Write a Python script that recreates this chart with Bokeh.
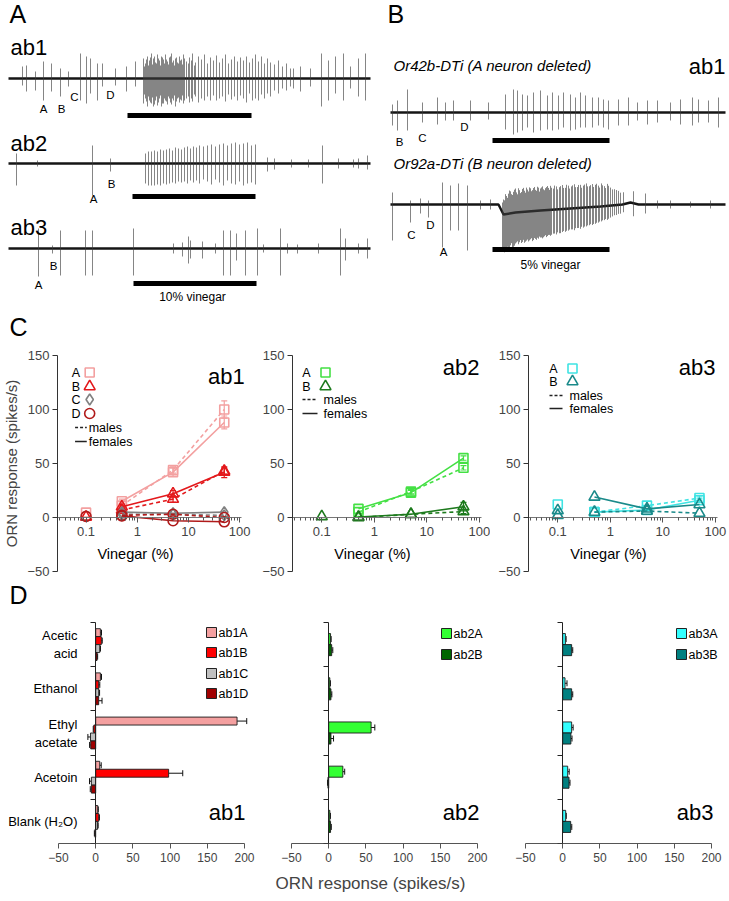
import numpy as np
from bokeh.plotting import figure
from bokeh.layouts import column, row
from bokeh.models import FixedTicker, Whisker, TeeHead, ColumnDataSource, NumeralTickFormatter
from bokeh.core.properties import value
from bokeh.embed import file_html
from bokeh.resources import INLINE

FONT = "Liberation Sans"

# ---------------- Panels A / B : spike traces (time, up, down) ----------------
ab1_spikes = [
    (14, 12, 7), (18, 13, 13), (27, 7, 12), (35, 17, 22), (43, 15, 13), (52, 10, 18), (60, 7, 8),
    (72, 25, 22), (78, 22, 25), (82, 20, 15), (89, 15, 22), (94, 15, 8), (107, 10, 7), (118, 12, 13),
    (127, 17, 8),
    (135, 20, 25), (137, 15, 20), (139, 22, 28), (141, 18, 22), (143, 25, 25), (145, 20, 28), (147, 16, 22),
    (149, 24, 27), (151, 18, 20), (153, 22, 28), (155, 19, 25), (157, 24, 22), (159, 17, 26), (161, 21, 20),
    (163, 25, 26), (165, 18, 22), (167, 20, 28), (169, 16, 20), (171, 22, 24), (173, 19, 22), (175, 24, 25),
    (178, 17, 20), (181, 21, 24), (184, 25, 23), (187, 16, 18), (190, 22, 24), (193, 19, 20), (196, 24, 22),
    (199, 15, 18), (202, 21, 22), (205, 18, 17), (208, 23, 22), (211, 16, 20), (214, 20, 18), (217, 24, 23),
    (220, 15, 16), (223, 19, 21), (226, 22, 18), (229, 17, 22), (232, 21, 17), (235, 18, 20), (238, 22, 24),
    (241, 16, 15), (244, 20, 22), (247, 24, 20), (250, 17, 22), (253, 22, 16), (256, 15, 20), (259, 20, 15),
    (262, 16, 18), (266, 14, 12), (270, 18, 15), (274, 12, 10), (278, 15, 12), (282, 10, 8),
    (136, 12, 16), (138, 19, 23), (140, 13, 18), (142, 21, 24), (144, 14, 19), (146, 22, 26), (148, 15, 18),
    (150, 20, 24), (152, 13, 17), (154, 21, 25), (156, 15, 20), (158, 19, 23), (160, 14, 18), (162, 22, 24),
    (164, 16, 20), (166, 13, 17), (168, 21, 23), (170, 15, 19), (172, 18, 21), (174, 14, 17), (176, 20, 22),
    (180, 15, 18), (183, 18, 20), (186, 13, 16),
    (285, 10, 10), (292, 12, 13), (302, 10, 8), (313, 25, 28), (320, 18, 22), (327, 22, 15), (335, 25, 22),
    (342, 12, 10), (350, 20, 18), (357, 25, 22),
]
ab1_stim = [119, 243]

ab2_spikes = [
    (8, 10, 22), (29, 3, 3), (84, 18, 32), (102, 5, 8),
    (137, 10, 20), (140, 12, 22), (143, 12, 22), (146, 13, 22), (149, 12, 21), (152, 14, 22), (155, 13, 20),
    (158, 14, 21), (161, 15, 20), (164, 13, 19), (167, 16, 20), (170, 15, 18), (173, 14, 19), (176, 16, 18),
    (179, 17, 20), (182, 15, 17), (185, 17, 19), (188, 16, 17), (191, 18, 20), (195, 17, 16), (199, 18, 18),
    (203, 19, 21), (207, 17, 16), (211, 19, 19), (215, 20, 22), (219, 18, 17), (223, 20, 20), (227, 21, 21),
    (231, 19, 18), (235, 20, 22), (239, 21, 20), (243, 18, 19), (247, 19, 21),
    (259, 6, 8), (266, 5, 6), (283, 4, 4), (300, 4, 4), (314, 18, 20), (330, 5, 5), (345, 4, 4), (350, 5, 5),
    (359, 8, 6),
]
ab2_stim = [124, 247]

ab3_spikes = [
    (30, 20, 28), (44, 3, 5), (52, 18, 27), (77, 18, 27), (84, 18, 27), (125, 20, 27), (165, 5, 5),
    (174, 6, 8), (180, 12, 15), (182, 8, 10), (194, 7, 10), (207, 5, 5), (215, 18, 27), (222, 18, 27),
    (228, 15, 12), (237, 18, 27), (249, 20, 27), (255, 4, 4), (272, 20, 27), (279, 5, 5), (289, 4, 5),
    (310, 5, 5), (332, 20, 27), (337, 10, 12), (350, 5, 5), (359, 10, 10),
]
ab3_stim = [125, 248]

or42b_spikes = [
    (2, 8, 13), (7, 12, 18), (17, 23, 18), (32, 10, 10), (47, 15, 12), (55, 10, 8), (63, 12, 8), (80, 12, 8),
    (98, 10, 7), (115, 18, 17), (123, 23, 22), (127, 22, 20), (132, 18, 18), (137, 17, 15), (143, 20, 20),
    (150, 22, 18), (157, 17, 17), (162, 20, 18), (168, 17, 17), (173, 20, 15), (180, 18, 18), (185, 15, 17),
    (190, 20, 15), (195, 17, 15), (202, 15, 15), (208, 15, 13), (213, 13, 15), (218, 12, 17), (228, 13, 13),
    (238, 15, 13), (247, 10, 8), (257, 12, 12), (267, 12, 10), (280, 10, 8), (290, 13, 12), (302, 15, 13),
    (308, 13, 10), (318, 12, 10), (328, 15, 15),
]
or42b_stim = [102, 219]

or92a_spikes = [
    (2, 12, 36), (20, 4, 18), (30, 6, 9), (38, 4, 13), (52, 22, 43), (60, 19, 26), (68, 21, 26), (77, 19, 46),
    (90, 4, 5), (100, 5, 5),
    (112, 10, 35), (114, 14, 38), (116, 18, 36), (118, 20, 34), (120, 22, 32), (122, 18, 35), (124, 23, 33),
    (126, 20, 30), (128, 24, 32), (130, 19, 28), (132, 23, 30), (134, 21, 31), (136, 24, 29), (138, 20, 30),
    (140, 23, 28), (142, 21, 30), (144, 24, 27), (146, 20, 29), (148, 23, 28), (150, 22, 27), (152, 24, 28),
    (154, 20, 26), (156, 23, 27), (158, 22, 25), (160, 24, 26), (163, 21, 24), (166, 23, 25), (169, 22, 24),
    (172, 24, 23), (175, 21, 23), (178, 23, 22), (181, 22, 21), (184, 24, 22), (187, 21, 20), (190, 23, 21),
    (193, 22, 20), (196, 24, 19), (199, 21, 18), (202, 23, 18), (205, 22, 17), (208, 21, 16), (211, 23, 15),
    (214, 20, 14), (217, 22, 14), (220, 18, 12), (224, 16, 10), (228, 14, 9), (233, 12, 8),
    (113, 15, 36), (115, 20, 37), (117, 16, 33), (119, 23, 35), (121, 19, 30), (123, 21, 34), (125, 24, 31),
    (127, 18, 29), (129, 22, 30), (131, 20, 31), (133, 24, 28), (135, 19, 30), (137, 22, 28), (139, 24, 29),
    (141, 20, 27), (143, 23, 29), (145, 21, 28), (147, 24, 27), (149, 19, 26), (151, 23, 27), (153, 21, 27),
    (155, 22, 25), (157, 24, 26), (159, 20, 25), (161, 22, 25), (164, 24, 24), (167, 20, 23), (170, 23, 24),
    (173, 21, 22), (176, 24, 22), (179, 20, 21), (182, 23, 21), (185, 21, 20), (188, 23, 20), (191, 20, 19),
    (194, 23, 19), (197, 21, 18), (200, 22, 17), (203, 20, 17), (206, 23, 16), (209, 19, 15), (212, 21, 14),
    (215, 18, 13), (218, 20, 13), (222, 16, 11), (226, 15, 10), (230, 12, 9),
    (243, 12, 13), (255, 11, 9), (267, 4, 4), (280, 4, 4), (300, 3, 3), (320, 4, 4),
]
or92a_stim = [102, 219]
or92a_drift = [(0, 0), (108, 0), (113, 10), (125, 8), (150, 6), (180, 4), (210, 2), (232, 0),
               (240, -2), (248, 0), (335, 0)]

# ---------------- Panel C : dose responses ----------------
conc = [0.5, 5, 50]
conc_low = 0.1

ab1A_f, ab1A_f_err, ab1A_m, ab1A_m_err, ab1A_low = [15, 42, 88], [2, 4, 6], [11, 44, 100], [2, 3, 8], [4.5]
ab1B_f, ab1B_f_err, ab1B_m, ab1B_m_err, ab1B_low = [10, 22, 42], [2, 3, 5], [7, 17, 43], [1.5, 3, 3], [0.5]
ab1C_f, ab1C_f_err, ab1C_m, ab1C_m_err, ab1C_low = [5, 4, 5], [0, 0, 0], [3, 3, 2], [0, 0, 0], []
ab1D_f, ab1D_f_err, ab1D_m, ab1D_m_err, ab1D_low = [1.5, -3, -4], [0, 0, 0], [2, 3, 0], [0, 0, 0], [1]

ab2A_f, ab2A_f_err, ab2A_m, ab2A_m_err, ab2A_low = [8, 23, 55], [0, 2, 2], [5, 24, 46], [0, 2, 2], []
ab2B_f, ab2B_f_err, ab2B_m, ab2B_m_err, ab2B_low = [0.5, 3, 10], [0, 0, 4], [0, 3, 5.5], [0, 0, 2], [1]

ab3A_f, ab3A_f_err, ab3A_m, ab3A_m_err, ab3A_low = [5, 7, 16], [0, 0, 2], [5, 11, 18], [0, 0, 2], [12]
ab3B_f, ab3B_f_err, ab3B_m, ab3B_m_err, ab3B_low = [19, 8, 12], [0, 0, 0], [5, 6, 4], [0, 0, 0], [6.5, 2]

# ---------------- Panel D : odorant responses ----------------
odorants = ["Acetic\nacid", "Ethanol", "Ethyl\nacetate", "Acetoin", "Blank (H\u2082O)"]
ab1A, ab1A_err = [6.3, 6.3, 190, 5.4, 2.7], [1.5, 1.5, 13, 2, 0.8]
ab1B, ab1B_err = [7.6, 4.0, -2.5, 98, 4.0], [1.2, 1.5, 0.8, 19, 1]
ab1C, ab1C_err = [5.4, 4.0, -7.0, -5.8, 2.5], [1.0, 1.2, 3.5, 2.5, 0.8]
ab1D, ab1D_err = [1.8, 4.0, -6.7, -5.8, -1.0], [0.8, 4.5, 1.5, 1.5, 0.8]
ab2A, ab2A_err = [2.5, 1.5, 57, 19, 1.5], [0.8, 0.8, 5, 2.5, 0.8]
ab2B, ab2B_err = [4, 3, 3, -1, 2.5], [1.5, 1.2, 3.5, 0.5, 1]
ab3A, ab3A_err = [3.6, 3.1, 12, 6.7, 4], [1, 2.7, 2, 2, 0.8]
ab3B, ab3B_err = [12, 12, 11, 8.5, 10.7], [1.5, 1.5, 1.5, 1.3, 1.5]


def txt(p, xs, ys, texts, size, align="left", baseline="middle", style="normal", color="black"):
    p.text(x=xs, y=ys, text=texts, text_font=value(FONT), text_font_size=size,
           text_align=align, text_baseline=baseline, text_font_style=style, text_color=color)


def clean(p):
    p.grid.visible = False
    p.outline_line_color = None


# ======================= top canvas: traces =======================
top = figure(width=729, height=340, x_range=(0, 729), y_range=(340, 0),
             x_axis_location=None, y_axis_location=None, min_border=0,
             output_backend="svg", toolbar_location=None)
clean(top)

TRACE_LAYOUT = [
    (ab1_spikes, ab1_stim, None, 8, 78, 362, 115),
    (ab2_spikes, ab2_stim, None, 8, 163, 362, 196),
    (ab3_spikes, ab3_stim, None, 8, 248, 362, 283),
    (or42b_spikes, or42b_stim, None, 390, 112, 335, 140),
    (or92a_spikes, or92a_stim, or92a_drift, 390, 204, 335, 249),
]
for spikes, stim, drift, x0, base, length, sy in TRACE_LAYOUT:
    sp = np.array(spikes, dtype=float)
    t, up, dn = sp[:, 0], sp[:, 1], sp[:, 2]
    if drift is None:
        dt, dv = np.array([0.0, length]), np.array([0.0, 0.0])
    else:
        d = np.array(drift, dtype=float)
        dt, dv = d[:, 0], d[:, 1]
    off = np.interp(t, dt, dv)
    top.line(x0 + dt, base + dv, line_color="#151515", line_width=2.4)
    top.segment(x0 + t, base + off - up, x0 + t, base + off + dn,
                line_color="#3a3a3a", line_width=1, line_alpha=0.62)
    top.segment([x0 + stim[0]], [sy], [x0 + stim[1]], [sy], line_color="black", line_width=5)

txt(top, [9, 387], [13, 13], ["A", "B"], "25px")
txt(top, [9], [326], ["C"], "25px")
txt(top, [10, 10, 10], [47, 143, 227], ["ab1", "ab2", "ab3"], "22px")
txt(top, [725], [66], ["ab1"], "22px", align="right")
txt(top, [393, 393], [65, 163], ["Or42b-DTi (A neuron deleted)", "Or92a-DTi (B neuron deleted)"],
    "15px", style="italic")
txt(top, [43, 61, 74, 110, 93, 111, 38, 53, 399, 422, 464, 411, 430, 443],
    [108, 108, 96, 94, 198, 183, 284, 265, 141, 137, 126, 234, 224, 251],
    ["A", "B", "C", "D", "A", "B", "A", "B", "B", "C", "D", "C", "D", "A"], "11.5px", align="center")
txt(top, [192, 550], [296, 264], ["10% vinegar", "5% vinegar"], "12px", align="center")

# ======================= panel C =======================
X0 = 0.0277
PPD = 52.5
LOW_MINOR = [0.03, 0.04, 0.05, 0.06, 0.07, 0.08, 0.09]
MINORS = LOW_MINOR + [m * d for d in (0.1, 1, 10) for m in range(2, 10)]


def c_panel(width, bl, br, axis_px, series, tag, tag_xy, leg, ylabel):
    fw = width - bl - br
    x_end = X0 * 10 ** (fw / PPD)
    p = figure(width=width, height=239, x_axis_type="log", x_range=(X0, x_end), y_range=(-50, 150),
               min_border_left=bl, min_border_right=br, min_border_top=15, min_border_bottom=8,
               output_backend="svg", toolbar_location=None)
    clean(p)

    def px2x(px):
        return X0 * 10 ** ((px - axis_px) / PPD)

    def py2y(py):
        return 150 - (py - 355) / 1.08

    ya = p.yaxis[0]
    ya.ticker = FixedTicker(ticks=[-50, 0, 50, 100, 150])
    ya.major_tick_out, ya.major_tick_in, ya.minor_tick_out = 5, 0, 0
    ya.major_label_text_font = FONT
    ya.major_label_text_font_size = "13px"
    ya.major_label_standoff = 3
    ya.axis_line_color = "#333333"
    ya.major_tick_line_color = "#333333"
    if ylabel:
        ya.axis_label = ylabel
        ya.axis_label_text_font = FONT
        ya.axis_label_text_font_size = "15px"
        ya.axis_label_text_font_style = "normal"
        ya.axis_label_standoff = 4

    xa = p.xaxis[0]
    xa.fixed_location = 0
    xa.bounds = (X0, 110)
    xa.ticker = FixedTicker(ticks=[0.1, 1, 10, 100], minor_ticks=MINORS)
    xa.formatter = NumeralTickFormatter(format="0.[0]")
    xa.major_tick_out, xa.major_tick_in = 5, 0
    xa.minor_tick_out, xa.minor_tick_in = 3, 0
    xa.major_label_text_font = FONT
    xa.major_label_text_font_size = "13px"
    xa.major_label_standoff = 4
    xa.axis_line_color = "#777777"
    xa.major_tick_line_color = "#555555"
    xa.minor_tick_line_color = "#555555"

    for s in series:
        c, mk, sz = s["color"], s["marker"], s["size"]
        p.line(conc, s["m"], line_color=c, line_width=1.6, line_dash="4 3")
        p.line(conc, s["f"], line_color=c, line_width=1.6)
        for vals, errs in ((s["m"], s["me"]), (s["f"], s["fe"])):
            p.scatter(conc, vals, marker=mk, size=sz, line_color=c, fill_color=None, line_width=1.6)
            xs = [x for x, e in zip(conc, errs) if e > 0]
            if xs:
                lo = [v - e for v, e in zip(vals, errs) if e > 0]
                hi = [v + e for v, e in zip(vals, errs) if e > 0]
                src = ColumnDataSource(dict(x=xs, lo=lo, hi=hi))
                p.add_layout(Whisker(source=src, base="x", lower="lo", upper="hi", dimension="height",
                                     line_color=c, line_width=1.2,
                                     lower_head=TeeHead(size=6, line_color=c, line_width=1.2),
                                     upper_head=TeeHead(size=6, line_color=c, line_width=1.2)))
        if s["low"]:
            p.scatter([conc_low] * len(s["low"]), s["low"], marker=mk, size=sz, line_color=c,
                      fill_color=None, line_width=1.6)

    # legend
    lx, mx, l0, l1, tx, ys, yd = leg
    for s, yy in zip(series, ys):
        txt(p, [px2x(axis_px + lx)], [py2y(yy)], [s["name"]], "12.5px", align="center")
        p.scatter([px2x(axis_px + mx)], [py2y(yy)], marker=s["marker"], size=s["size"],
                  line_color=s["color"], fill_color=None, line_width=1.6)
    p.line([px2x(axis_px + l0), px2x(axis_px + l1)], [py2y(yd[0])] * 2, line_color="#222222",
           line_width=1.3, line_dash="3 2")
    p.line([px2x(axis_px + l0), px2x(axis_px + l1)], [py2y(yd[1])] * 2, line_color="#222222",
           line_width=1.3)
    txt(p, [px2x(axis_px + tx)] * 2, [py2y(yd[0]), py2y(yd[1])], ["males", "females"], "12.5px")
    txt(p, [px2x(tag_xy[0])], [py2y(tag_xy[1])], [tag], "22px", align="right")
    txt(p, [px2x(axis_px + 80)], [py2y(553)], ["Vinegar (%)"], "14.5px", align="center")
    return p


def ser(name, color, marker, size, f, fe, m, me, low):
    return dict(name=name, color=color, marker=marker, size=size, f=f, fe=fe, m=m, me=me, low=low)


c1 = c_panel(255, 52, 0, 52, [
    ser("A", "#F3A0A0", "square", 9, ab1A_f, ab1A_f_err, ab1A_m, ab1A_m_err, ab1A_low),
    ser("B", "#E3191C", "triangle", 11, ab1B_f, ab1B_f_err, ab1B_m, ab1B_m_err, ab1B_low),
    ser("C", "#808080", "diamond", 11, ab1C_f, ab1C_f_err, ab1C_m, ab1C_m_err, ab1C_low),
    ser("D", "#B01A1A", "circle", 10, ab1D_f, ab1D_f_err, ab1D_m, ab1D_m_err, ab1D_low),
], "ab1", (244, 376), (19, 33, 18, 30, 32, [372, 386, 399, 413], (427, 441)), "ORN response (spikes/s)")

c2 = c_panel(235, 37, 0, 292, [
    ser("A", "#44E044", "square", 9, ab2A_f, ab2A_f_err, ab2A_m, ab2A_m_err, ab2A_low),
    ser("B", "#1D7A1D", "triangle", 11, ab2B_f, ab2B_f_err, ab2B_m, ab2B_m_err, ab2B_low),
], "ab2", (479, 367), (14, 33, 10, 25, 31, [372, 386], (399, 413)), None)

c3 = c_panel(239, 38, 0, 528, [
    ser("A", "#3FE3E3", "square", 9, ab3A_f, ab3A_f_err, ab3A_m, ab3A_m_err, ab3A_low),
    ser("B", "#1A8A8A", "triangle", 11, ab3B_f, ab3B_f_err, ab3B_m, ab3B_m_err, ab3B_low),
], "ab3", (715, 367), (25, 44, 21, 34, 41, [368, 381], (395, 408)), None)

# ======================= panel D =======================
UPP = 250 / 186.0          # x units per pixel
D_TOP = 579
Y_END = 5 + (622 - D_TOP) / 44.2
cat_idx = np.arange(len(odorants))[::-1]  # Acetic acid on top


def d_panel(width, br, frame_left, x_start, vals, errs, colors, names, bar_h, tag, tag_x,
            leg_x, leg_ys, xlabel=None, cats=False):
    fw = width - br
    x_end = x_start + fw * UPP
    p = figure(width=width, height=322, x_range=(x_start, x_end), y_range=(0, Y_END),
               min_border_left=0, min_border_right=br, min_border_top=0, min_border_bottom=58,
               output_backend="svg", toolbar_location=None)
    clean(p)

    def px2x(px):
        return x_start + (px - frame_left) * UPP

    def py2y(py):
        return Y_END - (py - D_TOP) / 44.2

    ya = p.yaxis[0]
    ya.fixed_location = 0
    ya.ticker = FixedTicker(ticks=[], minor_ticks=[0, 1, 2, 3, 4, 5])
    ya.bounds = (0, 5)
    ya.major_tick_out, ya.major_tick_in, ya.minor_tick_out, ya.minor_tick_in = 0, 0, 5, 0
    ya.axis_line_color = "#222222"
    ya.minor_tick_line_color = "#222222"

    xa = p.xaxis[0]
    xa.bounds = (-50, 200)
    xa.ticker = FixedTicker(ticks=[-50, 0, 50, 100, 150, 200])
    xa.major_tick_out, xa.major_tick_in, xa.minor_tick_out, xa.minor_tick_in = 5, 0, 0, 0
    xa.major_label_text_font = FONT
    xa.major_label_text_font_size = "12px"
    xa.major_label_standoff = 4
    xa.axis_line_color = "#555555"
    xa.major_tick_line_color = "#555555"
    if xlabel:
        xa.axis_label = xlabel
        xa.axis_label_text_font = FONT
        xa.axis_label_text_font_size = "17px"
        xa.axis_label_text_font_style = "normal"
        xa.axis_label_standoff = 9

    n = len(vals)
    for i, (v, e, c) in enumerate(zip(vals, errs, colors)):
        off = ((n - 1) / 2 - i) * bar_h
        y = cat_idx + 0.5 + off
        v = np.array(v, dtype=float)
        e = np.array(e, dtype=float)
        p.hbar(y=y, height=bar_h, left=0, right=v, fill_color=c, line_color="#1a1a1a", line_width=0.9)
        src = ColumnDataSource(dict(y=y, lo=v, hi=v + np.sign(v) * e))
        p.add_layout(Whisker(source=src, base="y", lower="lo", upper="hi", dimension="width",
                             line_color="#111111", line_width=1, lower_head=None,
                             upper_head=TeeHead(size=6, line_color="#111111", line_width=1)))
    for c, nm, yy in zip(colors, names, leg_ys):
        p.scatter([px2x(leg_x)], [py2y(yy)], marker="square", size=10, fill_color=c, line_color="#222222")
        txt(p, [px2x(leg_x + 7)], [py2y(yy)], [nm], "12.5px")
    txt(p, [px2x(tag_x)], [py2y(812)], [tag], "22px", align="right")
    if cats:
        txt(p, [px2x(77)] * len(odorants), list(cat_idx + 0.5), odorants, "13px", align="right")
        txt(p, [px2x(9)], [py2y(594)], ["D"], "25px")
    return p


d1 = d_panel(256, 6, 0, -50 - 58 * UPP, [ab1A, ab1B, ab1C, ab1D], [ab1A_err, ab1B_err, ab1C_err, ab1D_err],
             ["#F4A0A0", "#FF0000", "#C0C0C0", "#A00000"], ["ab1A", "ab1B", "ab1C", "ab1D"], 0.18,
             "ab1", 245, 211, [632, 652, 673, 693], cats=True)
d2 = d_panel(234, 6, 256, -50 - (291 - 256) * UPP, [ab2A, ab2B], [ab2A_err, ab2B_err],
             ["#33FF33", "#006600"], ["ab2A", "ab2B"], 0.25, "ab2", 479, 446, [633, 654],
             xlabel="ORN response (spikes/s)")
d3 = d_panel(239, 8, 490, -50 - (525 - 490) * UPP, [ab3A, ab3B], [ab3A_err, ab3B_err],
             ["#33FFFF", "#008080"], ["ab3A", "ab3B"], 0.25, "ab3", 713, 681, [633, 654])

layout = column(top, row(c1, c2, c3), row(d1, d2, d3))
open("out.html", "w").write(file_html(layout, INLINE))
